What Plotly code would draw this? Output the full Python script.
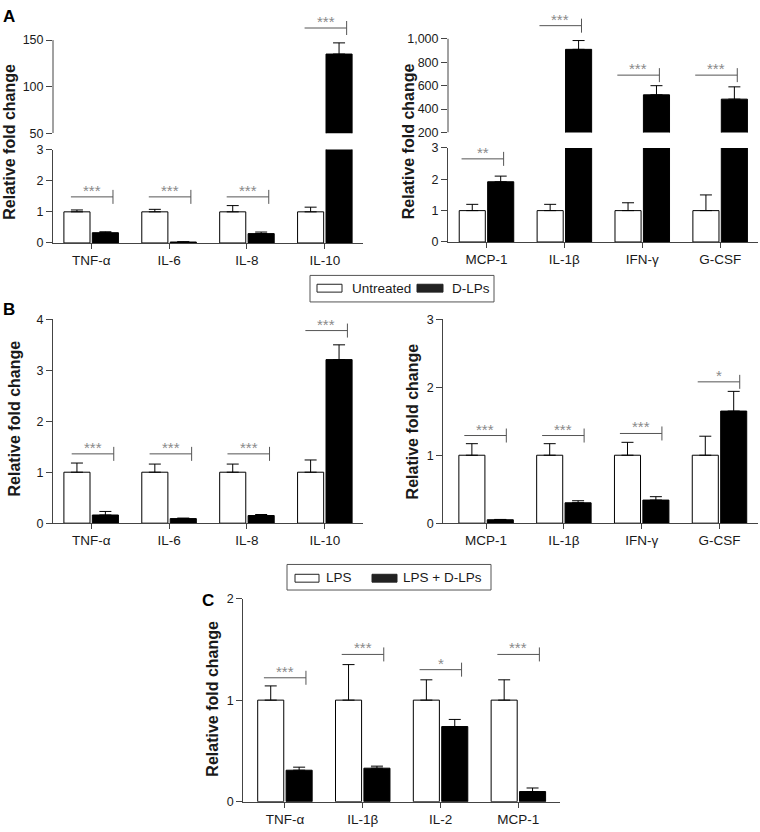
import plotly.graph_objects as go

W, H = 760, 832
FONT = "Liberation Sans, Arial, sans-serif"

# ---------------- data ----------------
series_ab = ["Untreated", "D-LPs"]
series_c = ["LPS", "LPS + D-LPs"]

a1_cats = ["TNF-α", "IL-6", "IL-8", "IL-10"]
a1_ctrl = [1, 1, 1, 1]
a1_ctrl_err = [0.06, 0.08, 0.2, 0.15]
a1_trt = [0.33, 0.03, 0.3, 135]
a1_trt_err = [0.03, 0.01, 0.05, 12]
a1_sig = ["***", "***", "***", "***"]
a1_sig_y = [1.48, 1.48, 1.48, 163]

a2_cats = ["MCP-1", "IL-1β", "IFN-γ", "G-CSF"]
a2_ctrl = [1, 1, 1, 1]
a2_ctrl_err = [0.2, 0.2, 0.25, 0.5]
a2_trt = [1.92, 910, 522, 485]
a2_trt_err = [0.18, 75, 78, 105]
a2_sig = ["**", "***", "***", "***"]
a2_sig_y = [2.65, 1112, 690, 690]

b1_cats = ["TNF-α", "IL-6", "IL-8", "IL-10"]
b1_ctrl = [1, 1, 1, 1]
b1_ctrl_err = [0.18, 0.16, 0.16, 0.24]
b1_trt = [0.16, 0.09, 0.15, 3.21]
b1_trt_err = [0.07, 0.01, 0.02, 0.29]
b1_sig = ["***", "***", "***", "***"]
b1_sig_y = [1.36, 1.36, 1.36, 3.78]

b2_cats = ["MCP-1", "IL-1β", "IFN-γ", "G-CSF"]
b2_ctrl = [1, 1, 1, 1]
b2_ctrl_err = [0.17, 0.17, 0.19, 0.28]
b2_trt = [0.05, 0.3, 0.34, 1.65]
b2_trt_err = [0.005, 0.03, 0.05, 0.29]
b2_sig = ["***", "***", "***", "*"]
b2_sig_y = [1.29, 1.29, 1.32, 2.08]

c_cats = ["TNF-α", "IL-1β", "IL-2", "MCP-1"]
c_ctrl = [1, 1, 1, 1]
c_ctrl_err = [0.14, 0.35, 0.2, 0.2]
c_trt = [0.31, 0.33, 0.74, 0.10]
c_trt_err = [0.03, 0.02, 0.07, 0.035]
c_sig = ["***", "***", "*", "***"]
c_sig_y = [1.22, 1.45, 1.30, 1.45]

# ---------------- layout helpers ----------------
def px_x(p):
    return p / W

def px_y(p):
    return 1 - p / H

AX = "#444"
TXT = "#1a1a1a"

fig = go.Figure()
layout = dict(
    width=W, height=H, margin=dict(l=0, r=0, t=0, b=0),
    paper_bgcolor="white", plot_bgcolor="white",
    font=dict(family=FONT, color=TXT), showlegend=False,
    barmode="overlay",
)
shapes, annots = [], []

# axis id, x px domain, y px domain (bottom, top), x range, y range, ticks, show x axis
axes_spec = [
    (1, (53, 363), (240, 145), (-0.49, 3.49), (0, 3), [0, 1, 2, 3], True),
    (2, (53, 363), (128.3, 10), (-0.49, 3.49), (50, 175), [50, 100, 150], False),
    (3, (448, 758), (239, 143.3), (-0.494, 3.486), (0, 3), [0, 1, 2, 3], True),
    (4, (448, 758), (127.7, 8.5), (-0.494, 3.486), (200, 1200), [200, 400, 600, 800, 1000], False),
    (5, (53, 363), (525, 317.7), (-0.49, 3.49), (0, 4), [0, 1, 2, 3, 4], True),
    (6, (443.3, 758), (525, 317.7), (-0.55, 3.495), (0, 3), [0, 1, 2, 3], True),
    (7, (243.3, 560), (808.3, 601.7), (-0.535, 3.535), (0, 2), [0, 1, 2], True),
]
cats_for = {1: a1_cats, 2: a1_cats, 3: a2_cats, 4: a2_cats, 5: b1_cats, 6: b2_cats, 7: c_cats}

for n, xd, yd, xr, yr, yt, showx in axes_spec:
    xk = "xaxis" if n == 1 else f"xaxis{n}"
    yk = "yaxis" if n == 1 else f"yaxis{n}"
    layout[xk] = dict(
        domain=[px_x(xd[0]), px_x(xd[1])], range=list(xr), anchor=f"y{n}" if n > 1 else "y",
        tickmode="array", tickvals=[0, 1, 2, 3], ticktext=cats_for[n],
        showline=True, linecolor=AX, linewidth=1, ticks="outside", ticklen=5,
        tickcolor=AX, tickfont=dict(size=13.5, color=TXT), showgrid=False,
        zeroline=False, visible=showx, fixedrange=True,
    )
    layout[yk] = dict(
        domain=[px_y(yd[0]), px_y(yd[1])], range=list(yr), anchor=f"x{n}" if n > 1 else "x",
        tickmode="array", tickvals=yt, tickformat=",d",
        showline=showx, linecolor=AX, linewidth=1, ticks="outside", ticklen=6,
        tickcolor=AX, tickfont=dict(size=12.5, color=TXT), showgrid=False,
        zeroline=False, fixedrange=True,
    )
    if not showx:
        shapes.append(dict(type="line", xref=f"x{n} domain", x0=0, x1=0,
                           yref=f"y{n}", y0=yt[0], y1=yt[-1],
                           line=dict(color=AX, width=1)))

BAR_W = 0.335
OFF_CTRL = -0.35
OFF_TRT = 0.015


def add_bars(n, ctrl, ctrl_err, trt, trt_err):
    xs = list(range(len(ctrl)))
    xa = "x" if n == 1 else f"x{n}"
    ya = "y" if n == 1 else f"y{n}"
    fig.add_trace(go.Bar(
        x=xs, y=ctrl, offset=OFF_CTRL, width=BAR_W, xaxis=xa, yaxis=ya,
        marker=dict(color="white", line=dict(color="black", width=1)),
        error_y=dict(type="data", array=ctrl_err, arrayminus=[0] * len(xs),
                     symmetric=False, color="black", thickness=1, width=6),
        hoverinfo="skip"))
    fig.add_trace(go.Bar(
        x=xs, y=trt, offset=OFF_TRT, width=BAR_W, xaxis=xa, yaxis=ya,
        marker=dict(color="black", line=dict(color="black", width=1)),
        error_y=dict(type="data", array=trt_err, arrayminus=[0] * len(xs),
                     symmetric=False, color="black", thickness=1, width=6),
        hoverinfo="skip"))


def add_sig(n_lo, n_hi, split, sig, sig_y, left_off):
    length = 0.54
    groups = {}
    for i, (s, h) in enumerate(zip(sig, sig_y)):
        n = n_hi if (n_hi is not None and h > split) else n_lo
        groups.setdefault(n, []).append((i, s, h))
    for n, items in groups.items():
        xa = "x" if n == 1 else f"x{n}"
        ya = "y" if n == 1 else f"y{n}"
        lx, ly, mx, my = [], [], [], []
        for i, s, h in items:
            x0 = i + left_off
            x1 = x0 + length
            lx += [x0, x1, None]
            ly += [h, h, None]
            mx.append(x1)
            my.append(h)
            annots.append(dict(x=(x0 + x1) / 2, y=h, xref=xa, yref=ya, text=s,
                               showarrow=False, yanchor="bottom", yshift=-4,
                               font=dict(size=15, color="#8a8a8a")))
        fig.add_trace(go.Scatter(x=lx, y=ly, mode="lines", xaxis=xa, yaxis=ya,
                                 line=dict(color="#555", width=1), hoverinfo="skip"))
        fig.add_trace(go.Scatter(x=mx, y=my, mode="markers", xaxis=xa, yaxis=ya,
                                 marker=dict(symbol="line-ns", size=10,
                                             line=dict(color="#555", width=1)),
                                 cliponaxis=False, hoverinfo="skip"))


# Panel A (broken axes)
add_bars(1, a1_ctrl, a1_ctrl_err, a1_trt, a1_trt_err)
add_bars(2, a1_ctrl, a1_ctrl_err, a1_trt, a1_trt_err)
add_bars(3, a2_ctrl, a2_ctrl_err, a2_trt, a2_trt_err)
add_bars(4, a2_ctrl, a2_ctrl_err, a2_trt, a2_trt_err)
add_sig(1, 2, 3, a1_sig, a1_sig_y, -0.26)
add_sig(3, 4, 3, a2_sig, a2_sig_y, -0.32)
# Panel B
add_bars(5, b1_ctrl, b1_ctrl_err, b1_trt, b1_trt_err)
add_bars(6, b2_ctrl, b2_ctrl_err, b2_trt, b2_trt_err)
add_sig(5, None, 99, b1_sig, b1_sig_y, -0.25)
add_sig(6, None, 99, b2_sig, b2_sig_y, -0.28)
# Panel C
add_bars(7, c_ctrl, c_ctrl_err, c_trt, c_trt_err)
add_sig(7, None, 99, c_sig, c_sig_y, -0.27)

# y-axis titles
for cx, cy in [(10, 137), (408.5, 137), (14.5, 419), (412.5, 422), (212.5, 704)]:
    annots.append(dict(x=px_x(cx), y=px_y(cy), xref="paper", yref="paper",
                       text="<b>Relative fold change</b>", textangle=-90,
                       showarrow=False, xanchor="center", yanchor="middle",
                       font=dict(size=16, color=TXT)))

# panel letters
for letter, lx, ly in [("A", 1, 10), ("B", 1, 307.5), ("C", 200, 603.5)]:
    annots.append(dict(x=px_x(lx), y=px_y(ly), xref="paper", yref="paper",
                       text=f"<b>{letter}</b>", showarrow=False,
                       xanchor="left", yanchor="middle", font=dict(size=17, color="black")))


# legends (drawn boxes)
def legend_box(box, items):
    x0, y0, x1, y1 = box
    shapes.append(dict(type="rect", xref="paper", yref="paper",
                       x0=px_x(x0), x1=px_x(x1), y0=px_y(y0), y1=px_y(y1),
                       line=dict(color="#555", width=1), fillcolor="white"))
    for (sx0, sx1, sy0, sy1, fill, tx, ty), name in items:
        shapes.append(dict(type="rect", xref="paper", yref="paper",
                           x0=px_x(sx0), x1=px_x(sx1), y0=px_y(sy0), y1=px_y(sy1),
                           line=dict(color="#222", width=1), fillcolor=fill))
        annots.append(dict(x=px_x(tx), y=px_y(ty), xref="paper", yref="paper",
                           text=name, showarrow=False, xanchor="left", yanchor="middle",
                           font=dict(size=13.5, color=TXT)))


legend_box((310, 273, 494, 300), [
    ((317, 342, 282, 290, "white", 350, 286.5), series_ab[0]),
    ((417, 443, 282, 290, "#222", 450, 286.5), series_ab[1]),
])
legend_box((287, 567, 491, 593), [
    ((295, 319, 577, 585, "white", 324, 580.5), series_c[0]),
    ((372, 397, 577, 585, "#222", 401, 580.5), series_c[1]),
])

layout["shapes"] = shapes
layout["annotations"] = annots
fig.update_layout(**layout)
fig.write_html(
    "out.html",
    config={"displayModeBar": False},
    post_script="document.body.style.margin='0';document.body.style.overflow='hidden';",
)
